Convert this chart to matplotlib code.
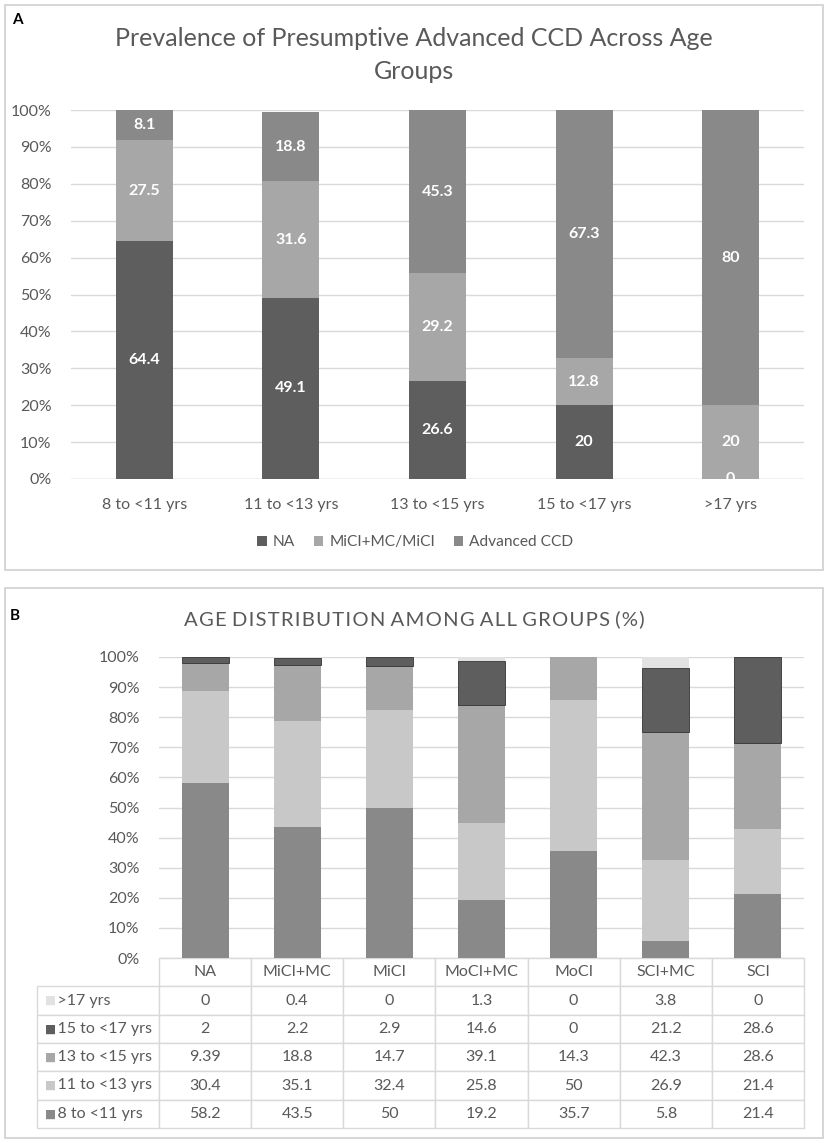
import matplotlib
matplotlib.use("Agg")
import matplotlib.pyplot as plt
from matplotlib.patches import Rectangle
import numpy as np

plt.rcParams["font.family"] = ["Lato", "DejaVu Sans"]

# Panel A data
age_groups = ["8 to <11 yrs", "11 to <13 yrs", "13 to <15 yrs", "15 to <17 yrs", ">17 yrs"]
na_vals = [64.4, 49.1, 26.6, 20, 0]
mici_vals = [27.5, 31.6, 29.2, 12.8, 20]
adv_vals = [8.1, 18.8, 45.3, 67.3, 80]
series_a = ["NA", "MiCI+MC/MiCI", "Advanced CCD"]

# Panel B data
groups = ["NA", "MiCI+MC", "MiCI", "MoCI+MC", "MoCI", "SCI+MC", "SCI"]
age_8_11 = [58.2, 43.5, 50, 19.2, 35.7, 5.8, 21.4]
age_11_13 = [30.4, 35.1, 32.4, 25.8, 50, 26.9, 21.4]
age_13_15 = [9.39, 18.8, 14.7, 39.1, 14.3, 42.3, 28.6]
age_15_17 = [2, 2.2, 2.9, 14.6, 0, 21.2, 28.6]
age_17 = [0, 0.4, 0, 1.3, 0, 3.8, 0]
age_labels_b = ["8 to <11 yrs", "11 to <13 yrs", "13 to <15 yrs", "15 to <17 yrs", ">17 yrs"]

DARK = "#5e5e5e"
MED = "#898989"
MIDL = "#a7a7a7"
LIGHT = "#c8c8c8"
VLIGHT = "#e2e2e2"
TXT = "#595959"
GRID = "#d9d9d9"

W, H = 829, 1143
fig = plt.figure(figsize=(W / 100, H / 100), dpi=100)

# panel frames
for (x0, y0, x1, y1) in [(5, 5, 823, 570), (5, 588, 823, 1138)]:
    fig.patches.append(Rectangle((x0 / W, 1 - y1 / H), (x1 - x0) / W, (y1 - y0) / H,
                                 transform=fig.transFigure, fill=False,
                                 edgecolor="#cfcfcf", linewidth=1.2))
fig.text(12 / W, 1 - 20 / H, "A", fontsize=11, fontweight="bold", va="center", ha="left")
fig.text(10 / W, 1 - 616 / H, "B", fontsize=11, fontweight="bold", va="center", ha="left")

# ---------------- Panel A ----------------
axA = fig.add_axes([71 / W, 1 - 479 / H, 733 / W, 369 / H])
x = np.arange(len(age_groups))
bw = 0.39
bottom = np.zeros(len(age_groups))
for vals, col, name in zip([na_vals, mici_vals, adv_vals], [DARK, MIDL, MED], series_a):
    bars = axA.bar(x, vals, bw, bottom=bottom, color=col, label=name, zorder=3)
    labs = axA.bar_label(bars, labels=[f"{v:g}" for v in vals], label_type="center",
                         color="white", fontsize=11.5, fontweight="bold")
    for t in labs:
        t.set_clip_on(True)
        t.set_zorder(6)
    bottom += np.array(vals)

axA.set_xlim(-0.5, len(age_groups) - 0.5)
axA.set_ylim(0, 100)
axA.set_yticks(np.arange(0, 101, 10))
axA.set_yticklabels([f"{v}%" for v in range(0, 101, 10)])
axA.set_xticks(x)
axA.set_xticklabels(age_groups)
axA.tick_params(axis="both", length=0, labelsize=11.5, colors=TXT)
axA.tick_params(axis="x", pad=14)
axA.tick_params(axis="y", pad=14)
axA.grid(axis="y", color=GRID, linewidth=1, zorder=0)
for s in axA.spines.values():
    s.set_visible(False)
axA.axhline(0, color=GRID, linewidth=1, zorder=1)
axA.set_title("Prevalence of Presumptive Advanced CCD Across Age\nGroups",
              x=(414 - 71) / 733, fontsize=18, color=TXT, pad=22.5, linespacing=1.5)
axA.legend(loc="center", bbox_to_anchor=(0.47, -0.172), ncol=3, frameon=False,
           fontsize=11.2, handlelength=0.6, handleheight=0.6, handletextpad=0.4,
           columnspacing=1.2, labelcolor=TXT)

# ---------------- Panel B ----------------
axB = fig.add_axes([159 / W, 1 - 958 / H, 645 / W, 301 / H])
xb = np.arange(len(groups))
bwb = 0.51
stack = [age_8_11, age_11_13, age_13_15, age_15_17, age_17]
cols_b = [MED, LIGHT, MIDL, DARK, VLIGHT]
outlined = [False, False, False, True, False]
bottom = np.zeros(len(groups))
for vals, col, ol in zip(stack, cols_b, outlined):
    ecs = ["#333333" if (ol and v > 0) else "none" for v in vals]
    axB.bar(xb, vals, bwb, bottom=bottom, color=col, edgecolor=ecs,
            linewidth=0.6, zorder=3)
    bottom += np.array(vals)

axB.set_xlim(-0.5, len(groups) - 0.5)
axB.set_ylim(0, 100)
axB.set_yticks(np.arange(0, 101, 10))
axB.set_yticklabels([f"{v}%" for v in range(0, 101, 10)])
axB.set_xticks([])
axB.tick_params(axis="y", length=0, labelsize=11.5, colors=TXT, pad=14)
axB.grid(axis="y", color=GRID, linewidth=1, zorder=0)
for s in axB.spines.values():
    s.set_visible(False)
title_b = "AGE DISTRIBUTION AMONG ALL GROUPS (%)"
spaced = " ".join("\u200a".join(w) for w in title_b.split(" "))
fig.text(414 / W, 1 - 619 / H, spaced, fontsize=14.6, color=TXT, ha="center", va="center")

# data table under panel B (rows top to bottom: >17 ... 8 to <11)
rows_order = list(range(len(stack)))[::-1]
cell_text = [[f"{v:g}" for v in stack[i]] for i in rows_order]
row_labels = ["    " + age_labels_b[i] for i in rows_order]
lab_w = 122 / 645
tab_h = 170 / 301
tbl = axB.table(cellText=cell_text, rowLabels=row_labels, colLabels=groups,
                colWidths=[1 / len(groups)] * len(groups),
                rowLoc="left", cellLoc="center",
                bbox=[0, -tab_h, 1, tab_h])
tbl._autoColumns = [c for c in tbl._autoColumns if c != -1]
tbl.auto_set_font_size(False)
tbl.set_fontsize(11.5)
for (r, c), cell in tbl.get_celld().items():
    cell.set_edgecolor(GRID)
    cell.set_linewidth(1)
    cell.get_text().set_color(TXT)
    if c == -1:
        cell.set_width(lab_w)
        cell.PAD = 0.03
# legend keys in row labels
row_h = tab_h / (len(stack) + 1)
for k, i in enumerate(rows_order):
    yc = -row_h * (k + 1.5)
    axB.text(-lab_w + 0.012, yc, "\u25A0", transform=axB.transAxes, color=cols_b[i],
             fontsize=8.5, va="center", ha="left", family="DejaVu Sans")

fig.savefig("out.png", dpi=100)
